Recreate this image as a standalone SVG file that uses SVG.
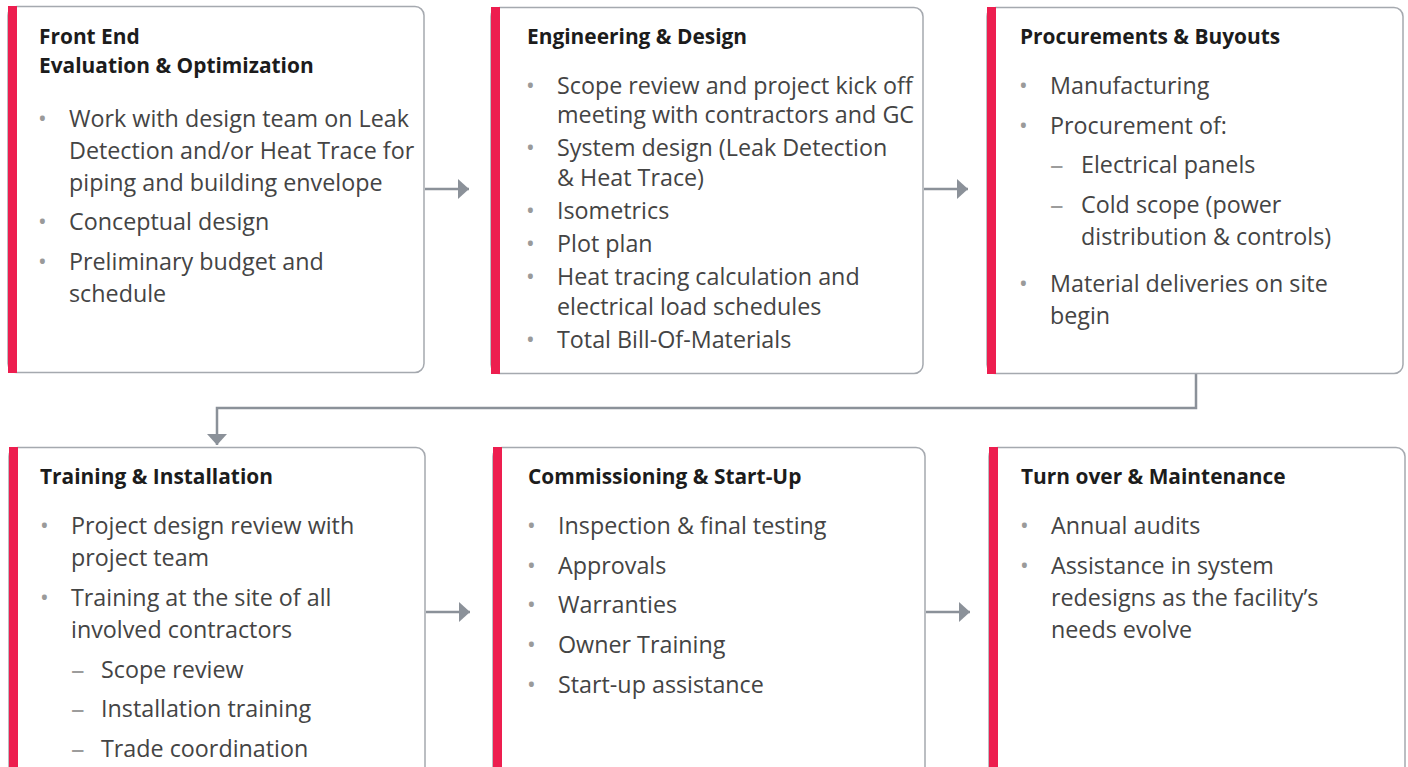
<svg xmlns="http://www.w3.org/2000/svg" width="1408" height="767" viewBox="0 0 1408 767">
<defs>
<style>
.box{fill:#fff;stroke:#a5a9af;stroke-width:1.5}
.bar{fill:#ED1E4F}
.t{font-family:"Open Sans","Noto Sans",sans-serif;font-weight:700;font-size:20.9px;fill:#1c1c1c}
.b{font-family:"Open Sans","Noto Sans",sans-serif;font-size:23.3px;fill:#444}
.dot{font-family:"Open Sans","Noto Sans",sans-serif;font-size:23.3px;fill:#9a9a9a}
.dash{font-family:"Open Sans","Noto Sans",sans-serif;font-size:27px;fill:#9c9c9c}
.con{fill:none;stroke:#8b9199;stroke-width:2.5}
</style>
<marker id="ah" markerWidth="12" markerHeight="20" refX="11" refY="10" orient="auto" markerUnits="userSpaceOnUse">
<path d="M0,0 L11,10 L0,20 Z" fill="#8b9199"/>
</marker>
</defs>
<rect width="1408" height="767" fill="#fff"/>

<g id="connectors">
<line class="con" x1="425" y1="189" x2="469" y2="189" marker-end="url(#ah)"/>
<line class="con" x1="924" y1="189" x2="968" y2="189" marker-end="url(#ah)"/>
<polyline class="con" points="1196,374 1196,408 217,408 217,445" marker-end="url(#ah)"/>
<line class="con" x1="426" y1="612" x2="470" y2="612" marker-end="url(#ah)"/>
<line class="con" x1="926" y1="612" x2="970" y2="612" marker-end="url(#ah)"/>
</g>

<g id="n1">
<rect class="box" x="8" y="6.5" width="416" height="366" rx="9"/>
<rect class="bar" x="8" y="6" width="9" height="367"/>
<text class="t" x="39" y="44">Front End</text>
<text class="t" x="39" y="73">Evaluation &amp; Optimization</text>
<text class="dot" x="38" y="127">•</text>
<text class="b" x="69" y="127">Work with design team on Leak</text>
<text class="b" x="69" y="159">Detection and/or Heat Trace for</text>
<text class="b" x="69" y="191">piping and building envelope</text>
<text class="dot" x="38" y="230">•</text>
<text class="b" x="69" y="230">Conceptual design</text>
<text class="dot" x="38" y="270">•</text>
<text class="b" x="69" y="270">Preliminary budget and</text>
<text class="b" x="69" y="302">schedule</text>
</g>

<g id="n2">
<rect class="box" x="491" y="7.5" width="432" height="366" rx="9"/>
<rect class="bar" x="491" y="7" width="9" height="367"/>
<text class="t" x="527" y="44">Engineering &amp; Design</text>
<text class="dot" x="526" y="94">•</text>
<text class="b" x="557" y="94">Scope review and project kick off</text>
<text class="b" x="557" y="123">meeting with contractors and GC</text>
<text class="dot" x="526" y="156">•</text>
<text class="b" x="557" y="156">System design (Leak Detection</text>
<text class="b" x="557" y="186">&amp; Heat Trace)</text>
<text class="dot" x="526" y="219">•</text>
<text class="b" x="557" y="219">Isometrics</text>
<text class="dot" x="526" y="252">•</text>
<text class="b" x="557" y="252">Plot plan</text>
<text class="dot" x="526" y="285">•</text>
<text class="b" x="557" y="285">Heat tracing calculation and</text>
<text class="b" x="557" y="315">electrical load schedules</text>
<text class="dot" x="526" y="348">•</text>
<text class="b" x="557" y="348">Total Bill-Of-Materials</text>
</g>

<g id="n3">
<rect class="box" x="987" y="7.5" width="416" height="366" rx="9"/>
<rect class="bar" x="987" y="7" width="9" height="367"/>
<text class="t" x="1020" y="44">Procurements &amp; Buyouts</text>
<text class="dot" x="1019" y="94">•</text>
<text class="b" x="1050" y="94">Manufacturing</text>
<text class="dot" x="1019" y="134">•</text>
<text class="b" x="1050" y="134">Procurement of:</text>
<text class="dash" x="1050" y="174">–</text>
<text class="b" x="1081" y="173">Electrical panels</text>
<text class="dash" x="1050" y="214">–</text>
<text class="b" x="1081" y="213">Cold scope (power</text>
<text class="b" x="1081" y="245">distribution &amp; controls)</text>
<text class="dot" x="1019" y="292">•</text>
<text class="b" x="1050" y="292">Material deliveries on site</text>
<text class="b" x="1050" y="324">begin</text>
</g>

<g id="n4">
<rect class="box" x="9" y="447.5" width="416" height="366" rx="9"/>
<rect class="bar" x="9" y="447" width="9" height="330"/>
<text class="t" x="40" y="484">Training &amp; Installation</text>
<text class="dot" x="40" y="534">•</text>
<text class="b" x="71" y="534">Project design review with</text>
<text class="b" x="71" y="566">project team</text>
<text class="dot" x="40" y="606">•</text>
<text class="b" x="71" y="606">Training at the site of all</text>
<text class="b" x="71" y="638">involved contractors</text>
<text class="dash" x="71" y="679">–</text>
<text class="b" x="101" y="678">Scope review</text>
<text class="dash" x="71" y="718">–</text>
<text class="b" x="101" y="717">Installation training</text>
<text class="dash" x="71" y="758">–</text>
<text class="b" x="101" y="757">Trade coordination</text>
</g>

<g id="n5">
<rect class="box" x="493" y="447.5" width="432" height="366" rx="9"/>
<rect class="bar" x="493" y="447" width="9" height="330"/>
<text class="t" x="528" y="484">Commissioning &amp; Start-Up</text>
<text class="dot" x="527" y="534">•</text>
<text class="b" x="558" y="534">Inspection &amp; final testing</text>
<text class="dot" x="527" y="574">•</text>
<text class="b" x="558" y="574">Approvals</text>
<text class="dot" x="527" y="613">•</text>
<text class="b" x="558" y="613">Warranties</text>
<text class="dot" x="527" y="653">•</text>
<text class="b" x="558" y="653">Owner Training</text>
<text class="dot" x="527" y="693">•</text>
<text class="b" x="558" y="693">Start-up assistance</text>
</g>

<g id="n6">
<rect class="box" x="989" y="447.5" width="416" height="366" rx="9"/>
<rect class="bar" x="989" y="447" width="9" height="330"/>
<text class="t" x="1021" y="484">Turn over &amp; Maintenance</text>
<text class="dot" x="1020" y="534">•</text>
<text class="b" x="1051" y="534">Annual audits</text>
<text class="dot" x="1020" y="574">•</text>
<text class="b" x="1051" y="574">Assistance in system</text>
<text class="b" x="1051" y="606">redesigns as the facility’s</text>
<text class="b" x="1051" y="638">needs evolve</text>
</g>
</svg>
